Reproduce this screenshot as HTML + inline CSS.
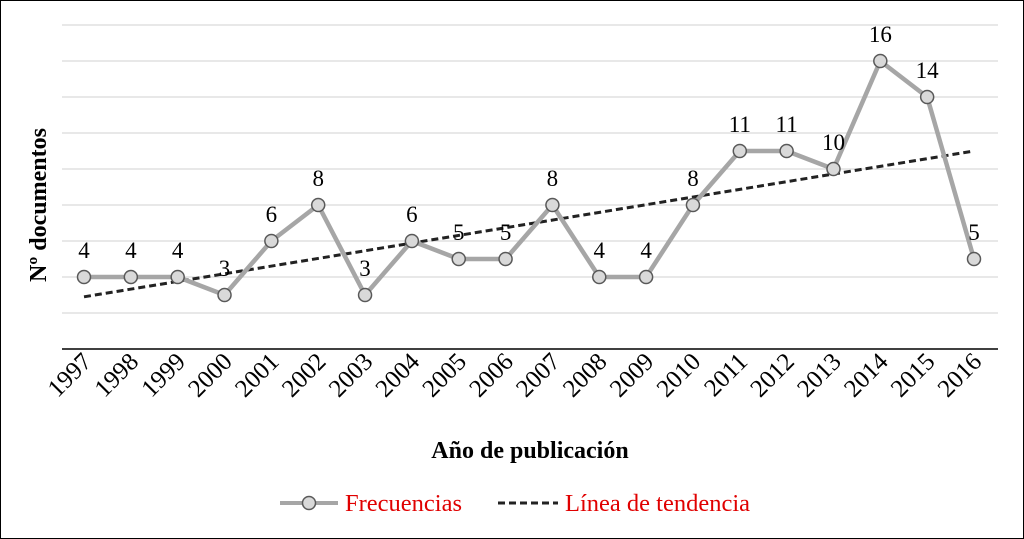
<!DOCTYPE html>
<html><head><meta charset="utf-8"><style>
html,body{margin:0;padding:0;background:#fff;}
svg{display:block;font-family:"Liberation Serif",serif;}
</style></head><body>
<svg id="chart" width="1024" height="539" viewBox="0 0 1024 539" xmlns="http://www.w3.org/2000/svg">
<rect x="0.5" y="0.5" width="1023" height="538" fill="#fff" stroke="#000" stroke-width="1"/>
<g id="grid"></g>
<g id="trend"></g>
<g id="series"></g>
<g id="xlabels"></g>
<text transform="translate(46,205) rotate(-90)" text-anchor="middle" font-size="24" font-weight="bold">Nº documentos</text>
<text x="530" y="458" text-anchor="middle" font-size="24" font-weight="bold">Año de publicación</text>
<g>
<g>
<line x1="280" y1="503" x2="338" y2="503" stroke="#a6a6a6" stroke-width="4"/>
<circle cx="309" cy="503" r="6.5" fill="#d9d9d9" stroke="#595959" stroke-width="1.5"/>
<text x="345" y="511" font-size="24.5" fill="#e00000">Frecuencias</text>
</g>
<g>
<line x1="498" y1="503" x2="558" y2="503" stroke="#222" stroke-width="3" stroke-dasharray="7,4"/>
<text x="565" y="511" font-size="24.5" fill="#e00000">Línea de tendencia</text>
</g>
</g>
</svg>
<script>
const years = ["1997","1998","1999","2000","2001","2002","2003","2004","2005","2006","2007","2008","2009","2010","2011","2012","2013","2014","2015","2016"];
const counts = [4,4,4,3,6,8,3,6,5,5,8,4,4,8,11,11,10,16,14,5];
const yTicks = [0,2,4,6,8,10,12,14,16,18];
const NS="http://www.w3.org/2000/svg";
const x0=84,x1=974,plotL=62,plotR=998,yBase=349,unit=18;
function xs(i){return x0+i*(x1-x0)/(years.length-1);}
function ys(v){return yBase-v*unit;}
function mk(tag,attrs,parent){const e=document.createElementNS(NS,tag);for(const k in attrs)e.setAttribute(k,attrs[k]);parent.appendChild(e);return e;}
const grid=document.getElementById('grid');
yTicks.forEach(t=>{
  const l=mk('line',{x1:plotL,x2:plotR,y1:ys(t),y2:ys(t),stroke:t===0?'#000':'#d9d9d9','stroke-width':t===0?1.5:1.2},grid);
  
  
});
const n=counts.length;let sx=0,sy=0,sxy=0,sxx=0;
counts.forEach((v,i)=>{sx+=i;sy+=v;sxy+=i*v;sxx+=i*i;});
const b=(n*sxy-sx*sy)/(n*sxx-sx*sx),a=(sy-b*sx)/n;
const tr=mk('line',{x1:xs(0),y1:ys(a),x2:xs(n-1),y2:ys(a+b*(n-1)),stroke:'#222','stroke-width':3,'stroke-dasharray':'7,4'},document.getElementById('trend'));


const ser=document.getElementById('series');
const pl=mk('polyline',{points:counts.map((v,i)=>xs(i)+','+ys(v)).join(' '),fill:'none',stroke:'#a6a6a6','stroke-width':4.5,'stroke-linejoin':'round'},ser);


const xl=document.getElementById('xlabels');
counts.forEach((v,i)=>{
  const c=mk('circle',{cx:xs(i),cy:ys(v),r:6.5,fill:'#d9d9d9',stroke:'#595959','stroke-width':1.5},ser);
  
  
  const t=mk('text',{x:xs(i),y:ys(v)-19,'text-anchor':'middle','font-size':23},ser);
  t.textContent=v;
  
  
  const lx=xs(i)+9,ly=363;
  const yl=mk('text',{x:lx,y:ly,'text-anchor':'end','font-size':25,transform:'rotate(-45 '+lx+' '+ly+')'},xl);
  yl.textContent=years[i];
  
  
});
</script>
</body></html>
